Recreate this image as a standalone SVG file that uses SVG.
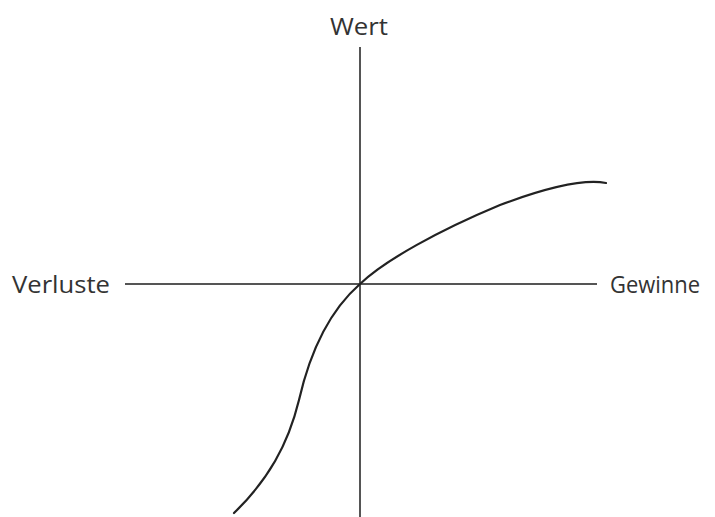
<svg xmlns="http://www.w3.org/2000/svg" width="715" height="517" viewBox="0 0 715 517">
<style>
.axis{stroke:#555;stroke-width:2;fill:none}
.curve{stroke:#222;stroke-width:2.2;fill:none;stroke-linecap:round}
.lbl{font-family:"Open Sans","Noto Sans",sans-serif;font-size:24px;fill:#333}
</style>
<rect width="715" height="517" fill="#fff"/>
<g id="connectors">
<line class="axis" x1="360" y1="47" x2="360" y2="517"/>
<line class="axis" x1="125" y1="284" x2="597" y2="284"/>
<path class="curve" d="M234 513 C268 480 288 445 299 400 C310 352 328 312 360 284 C385 260 440 230 500 205 C540 190 580 178 606 183"/>
</g>
<g id="wert"><text class="lbl" x="330" y="35" textLength="58" lengthAdjust="spacingAndGlyphs">Wert</text></g>
<g id="verluste"><text class="lbl" x="12" y="293" textLength="98" lengthAdjust="spacingAndGlyphs">Verluste</text></g>
<g id="gewinne"><text class="lbl" x="610" y="293" textLength="90" lengthAdjust="spacingAndGlyphs">Gewinne</text></g>
</svg>
